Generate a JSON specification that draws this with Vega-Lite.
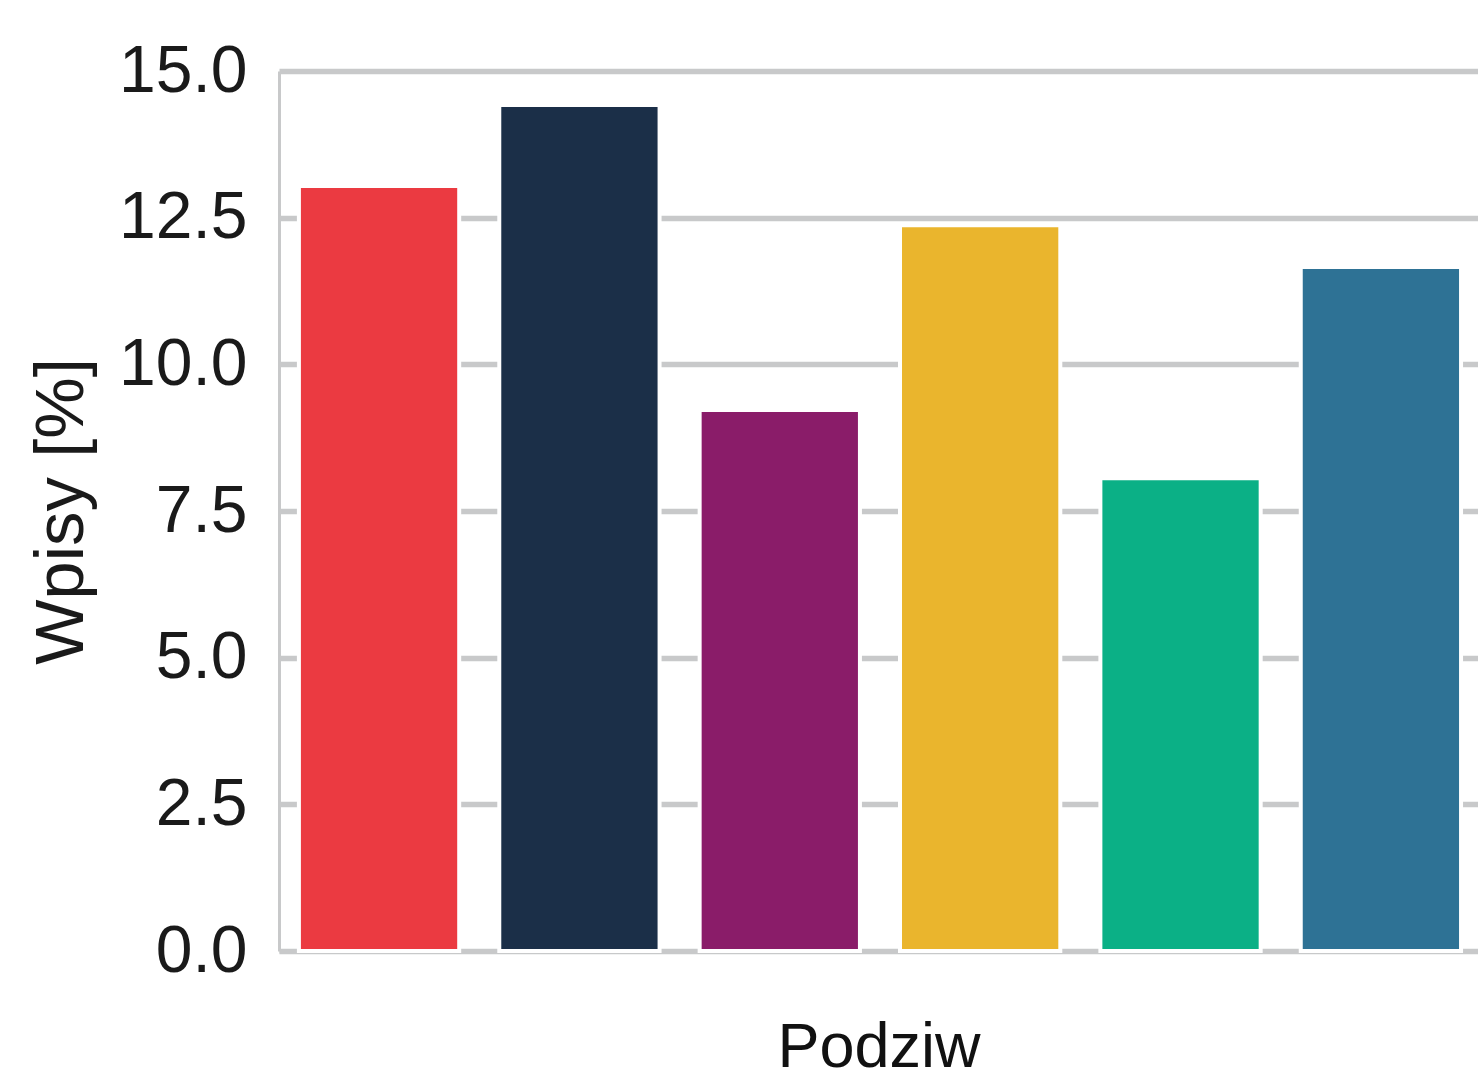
{
  "$schema": "https://vega.github.io/schema/vega-lite/v6.json",
  "autosize": {"type": "none"},
  "padding": {"left": 279, "top": 71, "right": 0, "bottom": 127},
  "width": 1199,
  "height": 880,
  "background": "white",
  "config": {"view": {"stroke": null}, "font": "Liberation Sans"},
  "data": {"values": [
    {"kategoria": "A", "wpisy": 13.04},
    {"kategoria": "B", "wpisy": 14.42},
    {"kategoria": "C", "wpisy": 9.22},
    {"kategoria": "D", "wpisy": 12.37},
    {"kategoria": "E", "wpisy": 8.06},
    {"kategoria": "F", "wpisy": 11.66}
  ]},
  "mark": {"type": "bar", "stroke": "white", "strokeWidth": 4},
  "encoding": {
    "x": {
      "field": "kategoria", "type": "nominal", "sort": null,
      "scale": {"paddingInner": 0.2, "paddingOuter": 0.092, "align": 0.54},
      "axis": {"title": "Podziw", "labels": false, "ticks": false, "grid": false,
        "domain": true, "domainColor": "#c8c9ca", "domainWidth": 4,
        "titleFont": "Liberation Sans", "titleFontSize": 63, "titleFontWeight": "normal",
        "titleColor": "#111111", "titlePadding": 65}
    },
    "y": {
      "field": "wpisy", "type": "quantitative",
      "scale": {"domain": [0, 15], "nice": false},
      "axis": {"title": "Wpisy [%]", "values": [0, 2.5, 5, 7.5, 10, 12.5, 15], "format": ".1f",
        "ticks": false, "labelPadding": 32, "labelFontSize": 66, "labelColor": "#1a1a1a",
        "labelFont": "Liberation Sans",
        "grid": true, "gridColor": "#c8c9ca", "gridWidth": 5.5,
        "domain": true, "domainColor": "#c8c9ca", "domainWidth": 3,
        "titleFont": "Liberation Sans", "titleFontSize": 69, "titleFontWeight": "normal",
        "titleColor": "#1a1a1a", "titlePadding": 22}
    },
    "color": {
      "field": "kategoria", "type": "nominal", "legend": null,
      "scale": {"domain": ["A", "B", "C", "D", "E", "F"],
        "range": ["#eb3a41", "#1b2f48", "#8a1c69", "#eab52d", "#0bb086", "#2e7295"]}
    }
  }
}
